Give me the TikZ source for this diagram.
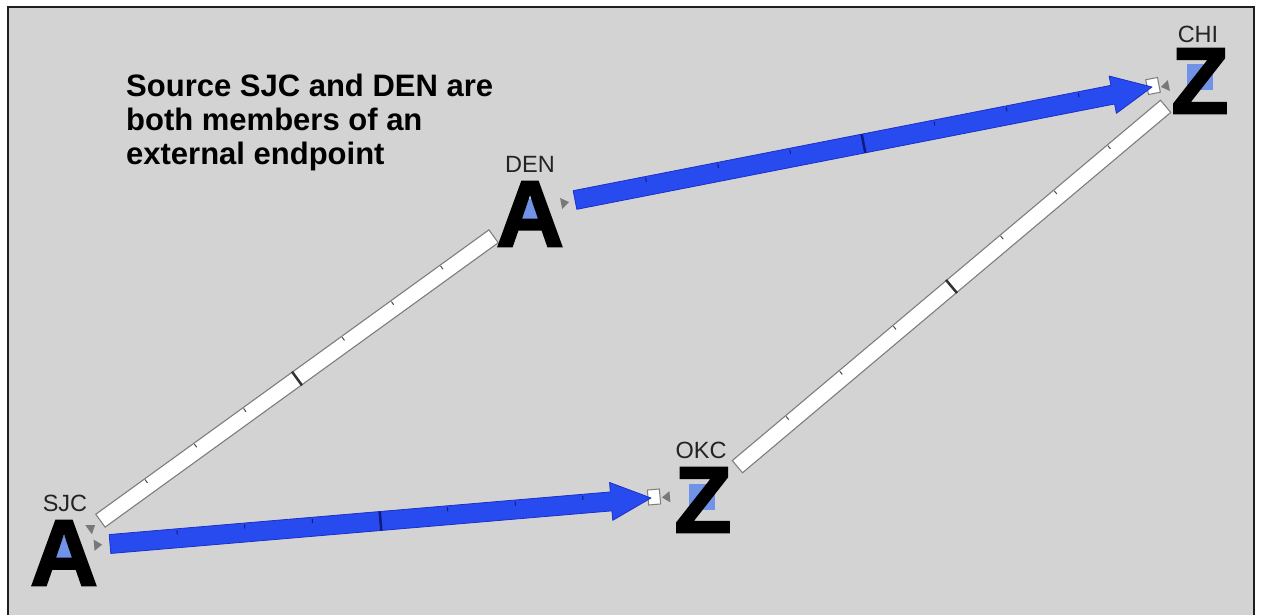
\documentclass[tikz,border=0pt]{standalone}
\usepackage{fontspec}
\setmainfont{Liberation Sans}
\newfontfamily\heavyf{Liberation Sans Bold}[FakeBold=2]
\usetikzlibrary{calc,shapes.geometric}
\definecolor{bgc}{RGB}{211,211,211}
\definecolor{framec}{RGB}{30,30,30}
\definecolor{linkblue}{RGB}{40,75,240}
\definecolor{linkblueedge}{RGB}{28,48,200}
\definecolor{tickblue}{RGB}{15,25,130}
\definecolor{patchblue}{RGB}{95,135,235}
\definecolor{bargray}{RGB}{125,125,125}
\definecolor{trigray}{RGB}{120,120,120}
\definecolor{labelc}{RGB}{35,35,35}
\tikzset{
  letter/.style={font=\heavyf\fontsize{94}{94}\selectfont, inner sep=0pt, text=black},
  citylabel/.style={font=\fontsize{23.5}{24}\selectfont, inner sep=0pt, text=labelc},
  maintext/.style={font=\bfseries\fontsize{31}{34}\selectfont, inner sep=0pt, text=black, align=left},
  patch/.style={fill=patchblue, opacity=0.85, minimum size=26pt, inner sep=0pt, rectangle},
  gtri/.style={isosceles triangle, isosceles triangle apex angle=70, fill=trigray, inner sep=0pt, minimum height=8pt, minimum width=9pt},
  tipbox/.style={rectangle, draw=bargray, fill=white, line width=1pt, minimum width=12pt, minimum height=15pt, inner sep=0pt},
  barout/.style={line width=17pt, draw=bargray},
  barin/.style={line width=14.5pt, draw=white, shorten <=1.2pt, shorten >=1.2pt},
  smalltick/.style={draw=black!70, line width=1pt},
  bigtick/.style={draw=black!80, line width=2.5pt},
  arrowbody/.style={fill=linkblue, draw=linkblueedge, line width=0.8pt, line join=round},
  smalltickb/.style={draw=tickblue, line width=1pt},
  bigtickb/.style={draw=tickblue, line width=2.5pt}
}
\newcommand\drawbarlink[2]{%
  \draw[barout] (#1) -- (#2);
  \draw[barin] (#1) -- (#2);
  \foreach \k in {1,2,3,5,6,7}{
    \coordinate (tp) at ($(#1)!\k/8!(#2)$);
    \draw[smalltick] ($(tp)!7pt!90:(#2)$) -- ($(tp)!3pt!90:(#2)$);
  }
  \coordinate (tm) at ($(#1)!0.5!(#2)$);
  \draw[bigtick] ($(tm)!8.5pt!90:(#2)$) -- ($(tm)!8.5pt!-90:(#2)$);
}
\newcommand\drawbluelink[2]{%
  \coordinate (hb) at ($(#2)!40pt!(#1)$);
  \filldraw[arrowbody] ($(#1)!9.5pt!90:(#2)$) -- ($(hb)!9.5pt!90:(#2)$) -- ($(hb)!19pt!90:(#2)$) -- (#2)
     -- ($(hb)!19pt!-90:(#2)$) -- ($(hb)!9.5pt!-90:(#2)$) -- ($(#1)!9.5pt!-90:(#2)$) -- cycle;
  \foreach \k in {1,2,3,5,6,7}{
    \coordinate (tp) at ($(#1)!\k/8!(#2)$);
    \draw[smalltickb] ($(tp)!8pt!90:(#2)$) -- ($(tp)!4pt!90:(#2)$);
  }
  \coordinate (tm) at ($(#1)!0.5!(#2)$);
  \draw[bigtickb] ($(tm)!9.5pt!90:(#2)$) -- ($(tm)!9.5pt!-90:(#2)$);
}
\begin{document}
\begin{tikzpicture}[x=1pt,y=-1pt]
\useasboundingbox (0,0) rectangle (1261,615);
\clip (0,0) rectangle (1261,615);
\fill[white] (0,0) rectangle (1261,615);
\fill[bgc] (8,7) rectangle (1254,630);
\draw[framec, line width=2.5pt] (8,630) -- (8,7) -- (1254,7) -- (1254,630);

% note
\node[maintext, anchor=north west] (note) at (126,74) {Source SJC and DEN are\\both members of an\\external endpoint};

% link end points
\coordinate (s1) at (100,521);
\coordinate (d1) at (494,236);
\coordinate (o1) at (737,467);
\coordinate (c1) at (1166,106);
\coordinate (s2) at (110,544);
\coordinate (o2) at (651,498);
\coordinate (d2) at (575,200);
\coordinate (c2) at (1152,87);

% white links
\drawbarlink{s1}{d1}
\drawbarlink{o1}{c1}

% tip boxes
\node[tipbox, rotate=5] (okcbox) at (654,497) {};
\node[tipbox, rotate=11] (chibox) at (1153,86) {};

% blue links
\drawbluelink{s2}{o2}
\drawbluelink{d2}{c2}

% small gray triangles
\node[gtri, rotate=36] (sjct1) at (91,528) {};
\node[gtri, rotate=5] (sjct2) at (97,545) {};
\node[gtri, rotate=11] (dent) at (564,203) {};
\node[gtri, rotate=185] (okct) at (667,497) {};
\node[gtri, rotate=191] (chit) at (1166,86) {};

% node icons
\node[patch] (sjcp) at (64,549) {};
\node[patch] (denp) at (530,212) {};
\node[patch] (okcp) at (702,497) {};
\node[patch] (chip) at (1200,77) {};
\node[letter] (sjc) at (64,553) {A};
\node[letter] (den) at (530,214) {A};
\node[letter] (okc) at (703,500) {Z};
\node[letter] (chi) at (1200,81) {Z};

% labels
\node[citylabel] (sjcl) at (65,503) {SJC};
\node[citylabel] (denl) at (530,164) {DEN};
\node[citylabel] (okcl) at (701,450) {OKC};
\node[citylabel] (chil) at (1198,34) {CHI};
\end{tikzpicture}
\end{document}
